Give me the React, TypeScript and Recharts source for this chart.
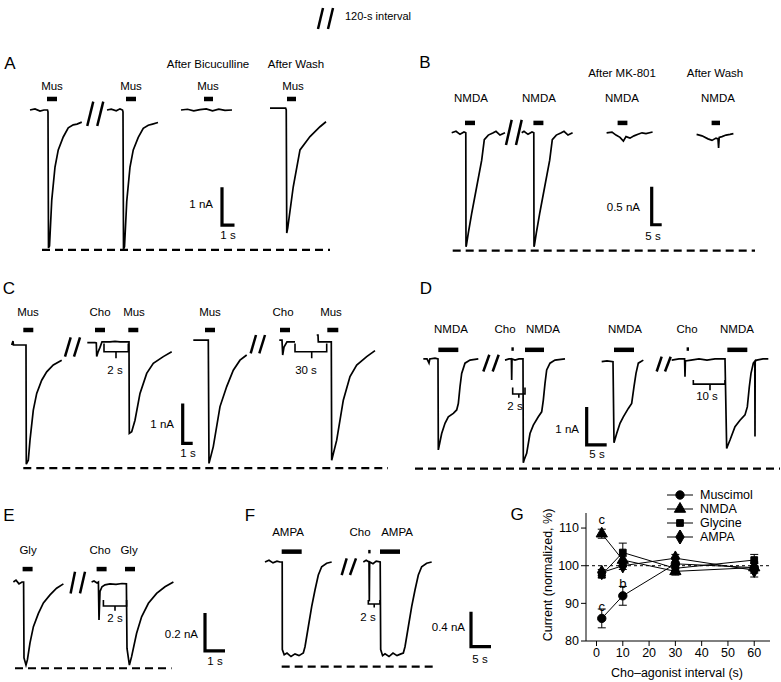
import React from 'react';
import { LineChart, Line, XAxis, YAxis, ReferenceLine, ErrorBar, Symbols } from 'recharts';

const FONT = 'Arial, "Liberation Sans", Helvetica, sans-serif';

// traces: [time (s), current (nA)]

// A - muscimol, then bicuculline and wash
const a1 = [[0.8, 0], [1.2, 0.03], [1.6, -0.03], [1.92, 0], [2.2, 0], [2.24, -0.05], [2.28, -3.63], [2.36, -3.58], [2.54, -2.37], [2.8, -1.5], [3.06, -1.05], [3.46, -0.71], [3.86, -0.47], [4.26, -0.39], [4.56, -0.37], [4.94, -0.32]];
const a2 = [[6.96, 0], [7.3, 0.02], [7.7, -0.02], [8.0, 0.03], [8.2, 0], [8.24, -0.05], [8.28, -3.66], [8.36, -3.6], [8.54, -2.4], [8.8, -1.5], [9.06, -1.05], [9.46, -0.72], [9.86, -0.48], [10.26, -0.4], [10.6, -0.37], [11.04, -0.33]];
const a3 = [[12.88, 0], [13.4, 0.02], [13.9, -0.02], [14.4, 0.01], [14.9, 0.03], [15.4, -0.02], [15.9, 0.02], [16.4, -0.01], [16.96, 0]];
const a4 = [[20.0, 0.05], [20.5, 0.05], [21.0, 0.05], [21.25, 0.05], [21.3, 0], [21.34, -3.24], [21.42, -3.1], [21.86, -2.02], [22.4, -1.05], [23.2, -0.7], [24.0, -0.44], [24.48, -0.31]];
const aBars = [[2.16, 2.96], [8.48, 9.28], [14.72, 15.44], [21.36, 22.08]];
const aBreaks = [[[5.38, -0.42], [5.86, 0.22]], [[6.18, -0.42], [6.66, 0.22]]];

// B - NMDA, then MK-801 and wash
const b1 = [[5.85, 0], [8, 0.02], [10, -0.02], [12, 0.01], [12.9, 0], [13.0, -1.5], [13.2, -1.48], [14.15, -1.32], [15.85, -1.06], [18.35, -0.71], [20.85, -0.36], [22.15, -0.09], [24.15, -0.03], [26.65, 0], [28, 0.02], [30, -0.03], [32.5, 0]];
const b2 = [[40.85, 0], [42, 0.02], [44, -0.02], [46, 0.01], [46.9, 0], [47.0, -1.5], [47.2, -1.48], [48.15, -1.32], [49.85, -1.06], [52.35, -0.71], [54.85, -0.36], [56.15, -0.09], [58.15, -0.03], [60.65, 0], [62, 0.02], [64, -0.03], [66.3, 0]];
const b3 = [[83.3, 0], [86, 0.01], [88, -0.03], [90, -0.06], [91.7, -0.11], [93, -0.05], [95, -0.07], [97, -0.04], [99, -0.02], [101, 0], [103, -0.01], [106.3, 0.01]];
const b4 = [[128.3, -0.02], [131, -0.04], [134, -0.08], [136, -0.1], [138, -0.07], [139, -0.08], [139.3, -0.2], [139.6, -0.06], [141, -0.05], [143, -0.03], [145, -0.02], [146.7, -0.01]];
const bBars = [[12.5, 17.5], [46.7, 51.7], [88.8, 93.7], [135.8, 140]];
const bBreaks = [[[33, -0.16], [35.85, 0.17]], [[38, -0.16], [40.85, 0.17]]];

// C - choline before muscimol, 2 s and 30 s
const c1 = [[0.17, 0], [0.3, 0.1], [0.35, 0], [1.0, 0], [1.6, 0], [1.63, -2.98], [1.83, -2.88], [2.0, -2.38], [2.33, -1.63], [2.67, -1.21], [3.17, -0.88], [3.67, -0.67], [4.33, -0.5], [5.17, -0.38]];
const c2 = [[7.73, 0.06], [8.5, 0.06], [8.63, 0.05], [8.67, -0.29], [8.8, -0.18], [9.0, -0.06], [9.2, 0.08], [9.6, 0.08], [10, 0.08], [10.5, 0.09], [11.0, 0.08], [11.5, 0.08], [11.9, 0.08], [11.93, -2.21], [12.17, -2.17], [12.5, -1.88], [13.0, -1.21], [13.67, -0.71], [14.33, -0.46], [15.33, -0.29], [16.17, -0.17]];
const c3 = [[18.33, 0.12], [19.0, 0.12], [19.83, 0.12], [19.9, -2.96], [20.33, -2.54], [21.0, -1.54], [21.67, -1.04], [22.33, -0.63], [23.0, -0.38], [23.67, -0.25]];
const c4 = [[26.93, 0.12], [27.2, 0.12], [27.27, -0.25], [27.4, -0.05], [27.7, 0.08], [28.1, 0.08], [28.5, 0.08]];
const c5 = [[30.67, 0.25], [30.8, 0.25], [30.83, 0.08], [31.5, 0.08], [32.13, 0.08], [32.17, -2.88], [32.67, -2.38], [33.33, -1.38], [34.0, -0.79], [34.67, -0.5], [35.67, -0.29], [36.5, -0.14]];
const cBars = [[1.33, 2.33], [8.5, 9.5], [11.83, 12.83], [19.5, 20.5], [27, 28], [31.73, 32.83]];
const cBrackets = [
  [[9.4, 0.04], [9.4, -0.17], [10.6, -0.17], [10.6, -0.33], [10.6, -0.17], [11.83, -0.17], [11.83, 0.04]],
  [[28.5, 0.04], [28.5, -0.17], [30.17, -0.17], [30.17, -0.33], [30.17, -0.17], [31.67, -0.17], [31.67, 0.04]],
];
const cBreaks = [[[5.5, -0.29], [6.07, 0.19]], [[6.4, -0.29], [7.0, 0.19]], [[24.07, -0.21], [24.6, 0.25]], [[24.93, -0.21], [25.5, 0.25]]];

// D - choline before NMDA, 2 s and 10 s
const d1 = [[2.08, 0], [3.0, 0], [3.5, -0.11], [3.7, 0], [5.0, 0.02], [5.75, 0], [5.83, -2.39], [6.0, -2.3], [6.67, -1.96], [7.5, -1.69], [8.33, -1.52], [9.58, -1.43], [10.42, -1.34], [10.83, -1.17], [11.25, -0.73], [11.67, -0.38], [12.5, -0.11], [13.75, -0.03], [15.83, 0]];
const d2 = [[22.5, -0.03], [23.5, 0], [24.1, 0], [24.17, -0.55], [24.25, 0], [25.0, -0.03], [26.0, 0], [27.0, 0], [27.08, -2.73], [27.3, -2.65], [27.92, -2.48], [28.75, -1.96], [29.58, -1.74], [30.83, -1.52], [31.67, -1.39], [32.08, -1.08], [32.5, -0.64], [32.92, -0.29], [33.75, -0.11], [35, -0.03], [37.5, 0]];
const d3 = [[46.67, -0.07], [48, -0.05], [49.5, -0.07], [49.75, -2.2], [50.42, -1.96], [51.25, -1.69], [52.08, -1.52], [53.33, -1.3], [54.17, -1.17], [54.75, -0.73], [55.25, -0.38], [55.83, -0.11], [57.08, -0.03]];
const d4 = [[64.17, -0.03], [66, 0], [67.4, 0], [67.5, -0.47], [67.6, -0.05], [69, -0.03], [71, 0], [73, -0.03], [75, 0], [77.5, 0], [77.92, -2.35], [78.1, -2.3], [78.75, -2.13], [80, -1.78], [81.25, -1.61], [82.5, -1.47], [83.08, -1.26], [83.58, -0.73], [84, -0.38], [84.58, -0.11], [84.95, -0.06], [85.0, -2.04], [85.05, -0.06], [85.42, -0.03], [87, 0], [88.33, 0]];
const dBars = [[5.83, 10.83], [27.5, 32.25], [49.75, 54.75], [78.08, 83.08]];
const dDots = [[24.1, 24.7], [67.9, 68.5]];
const dBrackets = [
  [[24.42, -0.75], [24.42, -0.92], [25.96, -0.92], [25.96, -1.02], [25.96, -0.92], [27.5, -0.92], [27.5, -0.75]],
  [[69.58, -0.55], [69.58, -0.66], [73.75, -0.66], [73.75, -0.82], [73.75, -0.66], [77.5, -0.66], [77.5, -0.55]],
];
const dBreaks = [[[17.08, -0.33], [18.58, 0.11]], [[19.42, -0.33], [20.92, 0.11]], [[60.42, -0.33], [61.67, 0.06]], [[62.5, -0.33], [63.92, 0.06]]];

// E - choline before glycine
const e1 = [[0.17, 0], [0.3, 0.01], [0.45, -0.01], [0.6, 0], [0.68, 0], [0.7, -0.4], [0.8, -0.437], [0.87, -0.41], [1.0, -0.32], [1.17, -0.235], [1.42, -0.165], [1.67, -0.11], [2.0, -0.068], [2.33, -0.033], [2.67, -0.01]];
const e2 = [[4.08, 0], [4.2, 0.005], [4.35, -0.005], [4.42, 0], [4.45, -0.2], [4.5, -0.05], [4.6, -0.025], [4.75, -0.015], [5.0, -0.01], [5.3, -0.012], [5.6, -0.008], [5.82, -0.01], [5.85, -0.35], [5.97, -0.437], [6.08, -0.393], [6.33, -0.27], [6.58, -0.183], [6.92, -0.112], [7.33, -0.06], [7.75, -0.025], [8.17, 0]];
const eBars = [[0.63, 1.13], [4.33, 4.83], [5.75, 6.25]];
const eBrackets = [[[4.67, -0.095], [4.67, -0.126], [5.25, -0.126], [5.25, -0.151], [5.25, -0.126], [5.83, -0.126], [5.83, -0.095]]];
const eBreaks = [[[3.03, -0.06], [3.25, 0.054]], [[3.5, -0.06], [3.75, 0.054]]];

// F - choline before AMPA
const f1 = [[2.5, 0], [3.5, 0.02], [4.5, -0.01], [5.5, 0.01], [6.25, 0], [6.8, 0], [6.83, -1.0], [7.3, -1.06], [8, -1.04], [9, -1.08], [10, -1.05], [11, -1.07], [12.08, -1.04], [12.5, -0.968], [13.33, -0.74], [14.17, -0.51], [15, -0.32], [15.83, -0.149], [16.67, -0.054], [17.92, -0.015], [19.17, 0]];
const f2 = [[27.08, 0], [27.8, 0.02], [28.5, 0], [28.58, -0.45], [28.66, 0], [29.5, -0.02], [30.3, 0.01], [31.3, 0], [31.42, -1.0], [31.9, -1.07], [32.5, -1.05], [33.5, -1.08], [34.5, -1.04], [35.5, -1.07], [36.5, -1.05], [37.08, -1.04], [37.5, -0.968], [38.33, -0.74], [39.17, -0.51], [40, -0.32], [40.83, -0.149], [41.67, -0.054], [42.92, -0.015], [44.17, 0]];
const fBars = [[6.67, 11.67], [31.25, 36.25]];
const fDots = [[28.3, 28.9]];
const fBrackets = [[[28.33, -0.434], [28.33, -0.48], [29.8, -0.48], [29.8, -0.52], [29.8, -0.48], [31.25, -0.48], [31.25, -0.434]]];
const fBreaks = [[[21.67, -0.149], [22.92, 0.042]], [[23.75, -0.149], [25.25, 0.042]]];

// G - normalized current vs choline-agonist interval
const intervals = [2, 10, 30, 60];
const muscimol = [86, 92, 100.5, 99.5];
const muscimolErr = [2.5, 2.5, 1.2, 1.5];
const nmda = [108.5, 101.5, 98.5, 99.5];
const nmdaErr = [1.2, 1, 1, 1.2];
const glycine = [97.6, 103.5, 99.3, 101.5];
const glycineErr = [0.8, 2.5, 1, 1.5];
const ampa = [98.2, 100, 102, 98.8];
const ampaErr = [0.8, 1, 1, 1.8];
const gLetters = [{ x: 2, y: 112.3, s: 'c' }, { x: 10, y: 95.3, s: 'b' }, { x: 2, y: 89.4, s: 'c' }];

const gData = intervals.map((x, k) => ({
  x,
  mus: muscimol[k], musErr: muscimolErr[k],
  nmda: nmda[k], nmdaErr: nmdaErr[k],
  gly: glycine[k], glyErr: glycineErr[k],
  ampa: ampa[k], ampaErr: ampaErr[k],
}));

const gSeries = [
  { key: 'mus', name: 'Muscimol', sym: 'circle', size: 55 },
  { key: 'nmda', name: 'NMDA', sym: 'triangle', size: 55 },
  { key: 'gly', name: 'Glycine', sym: 'square', size: 45 },
  { key: 'ampa', name: 'AMPA', sym: 'diamond', size: 60 },
];

// panel G plot geometry
const G_X = [-4, 66];
const G_Y = [80, 114];
const G_LEFT = 76, G_TOP = 25, G_W = 184, G_H = 128;
const gx = (v: number) => G_LEFT + ((v - G_X[0]) / (G_X[1] - G_X[0])) * G_W;
const gy = (v: number) => G_TOP + ((G_Y[1] - v) / (G_Y[1] - G_Y[0])) * G_H;

type Seg = number[][];
interface PanelSpec {
  box: number[];
  x: number[];
  y: number[];
  traces: Seg[];
  bars: Seg;
  barLevel: number;
  dots?: Seg;
  dotLevel?: number;
  brackets: Seg[];
  breaks: Seg[];
  scale: number[]; // t, top current, nA, s
  dashed: number[]; // level, t0, t1
}

const panels: PanelSpec[] = [
  { box: [20, 91, 320, 171], x: [0, 25.6], y: [-4, 0.5], traces: [a1, a2, a3, a4], bars: aBars, barLevel: 0.29, brackets: [], breaks: aBreaks, scale: [16.16, -2.03, 1, 1], dashed: [-3.68, 1.76, 24.8] },
  { box: [440, 110, 330, 152], x: [0, 165], y: [-1.7, 0.3], traces: [b1, b2, b3, b4], bars: bBars, barLevel: 0.13, brackets: [], breaks: bBreaks, scale: [105.85, -0.71, 0.5, 5], dashed: [-1.55, 6.35, 157.5] },
  { box: [10, 320, 380, 156], x: [0, 38], y: [-3.275, 0.625], traces: [c1, c2, c3, c4, c5], bars: cBars, barLevel: 0.375, brackets: cBrackets, breaks: cBreaks, scale: [17.27, -1.46, 1, 1], dashed: [-3.08, 1.33, 37.8] },
  { box: [415, 335, 366, 140], x: [0, 91.5], y: [-3.05, 0.63], traces: [d1, d2, d3, d4], bars: dBars, barLevel: 0.24, dots: dDots, dotLevel: 0.26, brackets: dBrackets, breaks: dBreaks, scale: [42.92, -1.26, 1, 5], dashed: [-2.88, 0, 91.25] },
  { box: [10, 560, 240, 115], x: [0, 12], y: [-0.4895, 0.1158], traces: [e1, e2], bars: eBars, barLevel: 0.068, brackets: eBrackets, breaks: eBreaks, scale: [9.75, -0.163, 0.2, 1], dashed: [-0.454, 0.25, 8.08] },
  { box: [255, 540, 245, 135], x: [0, 61.25], y: [-1.291, 0.251], traces: [f1, f2], bars: fBars, barLevel: 0.118, dots: fDots, dotLevel: 0.118, brackets: fBrackets, breaks: fBreaks, scale: [54, -0.568, 0.4, 5], dashed: [-1.196, 6.67, 45] },
];

// text placed on the page: x, y (centre), text, font size, anchor
const labels: [number, number, string, number?, string?][] = [
  [345, 16, '120-s interval', 11, 'start'],
  [10, 63, 'A', 17], [208, 65, 'After Bicuculline', 11.5], [296, 65, 'After Wash', 11.5],
  [52, 87, 'Mus', 11.5], [131, 87, 'Mus', 11.5], [208, 87, 'Mus', 11.5], [293, 87, 'Mus', 11.5],
  [213, 205, '1 nA', 11.5, 'end'], [228, 236, '1 s', 11.5],
  [425, 62, 'B', 17], [622, 74, 'After MK-801', 11.5], [715, 74, 'After Wash', 11.5],
  [471, 99, 'NMDA', 11.5], [539, 99, 'NMDA', 11.5], [622, 99, 'NMDA', 11.5], [718, 99, 'NMDA', 11.5],
  [640, 208, '0.5 nA', 11.5, 'end'], [653, 237, '5 s', 11.5],
  [9, 288, 'C', 17], [28, 313, 'Mus', 11.5], [100, 313, 'Cho', 11.5], [134, 313, 'Mus', 11.5],
  [210, 313, 'Mus', 11.5], [283, 313, 'Cho', 11.5], [331, 313, 'Mus', 11.5],
  [115, 371, '2 s', 11.5], [306, 371, '30 s', 11.5], [174, 425, '1 nA', 11.5, 'end'], [188, 454, '1 s', 11.5],
  [426, 288, 'D', 17], [451, 330, 'NMDA', 11.5], [505, 330, 'Cho', 11.5], [543, 330, 'NMDA', 11.5],
  [625, 330, 'NMDA', 11.5], [687, 330, 'Cho', 11.5], [737, 330, 'NMDA', 11.5],
  [515, 407, '2 s', 11.5], [707, 397, '10 s', 11.5], [579, 430, '1 nA', 11.5, 'end'], [597, 455, '5 s', 11.5],
  [9, 515, 'E', 17], [28, 551, 'Gly', 11.5], [100, 551, 'Cho', 11.5], [129, 551, 'Gly', 11.5],
  [115, 619, '2 s', 11.5], [198, 635, '0.2 nA', 11.5, 'end'], [215, 662, '1 s', 11.5],
  [250, 515, 'F', 17], [288, 533, 'AMPA', 11.5], [360, 533, 'Cho', 11.5], [397, 533, 'AMPA', 11.5],
  [368, 618, '2 s', 11.5], [465, 628, '0.4 nA', 11.5, 'end'], [480, 660, '5 s', 11.5],
  [517, 514, 'G', 17], [677, 673, 'Cho\u2013agonist interval (s)', 12.5],
];

const Txt = ({ x, y, s, size = 11.5, anchor = 'middle' }: { x: number; y: number; s: string; size?: number; anchor?: string }) => (
  <div
    style={{
      position: 'absolute', left: x, top: y, fontSize: size, lineHeight: 1, whiteSpace: 'nowrap', color: '#000',
      transform: `translate(${anchor === 'middle' ? '-50%' : anchor === 'end' ? '-100%' : '0'}, -50%)`,
    }}
  >
    {s}
  </div>
);

function TracePanel({ p }: { p: PanelSpec }) {
  const [left, top, w, h] = p.box;
  const series: { pts: Seg; width: number; dash?: string }[] = [];
  p.traces.forEach((s) => series.push({ pts: s, width: 1.7 }));
  p.bars.forEach(([t0, t1]) => series.push({ pts: [[t0, p.barLevel], [t1, p.barLevel]], width: 4.5 }));
  (p.dots || []).forEach(([t0, t1]) => series.push({ pts: [[t0, p.dotLevel!], [t1, p.dotLevel!]], width: 3.5 }));
  p.breaks.forEach((s) => series.push({ pts: s, width: 2.5 }));
  p.brackets.forEach((s) => series.push({ pts: s, width: 1.6 }));
  const [st, si, sh, sw] = p.scale;
  series.push({ pts: [[st, si], [st, si - sh], [st + sw, si - sh]], width: 3.2 });
  const [dl, d0, d1] = p.dashed;
  series.push({ pts: [[d0, dl], [d1, dl]], width: 2.2, dash: '8 5' });

  return (
    <div style={{ position: 'absolute', left, top }}>
      <LineChart width={w} height={h} margin={{ top: 0, right: 0, bottom: 0, left: 0 }}>
        <XAxis type="number" dataKey="t" domain={p.x} hide allowDataOverflow />
        <YAxis type="number" dataKey="i" domain={p.y} hide allowDataOverflow />
        {series.map((s, k) => (
          <Line
            key={k}
            data={s.pts.map(([t, i]) => ({ t, i }))}
            dataKey="i"
            type="linear"
            stroke="#000"
            strokeWidth={s.width}
            strokeDasharray={s.dash}
            strokeLinejoin="miter"
            dot={false}
            activeDot={false}
            isAnimationActive={false}
          />
        ))}
      </LineChart>
    </div>
  );
}

const marker = (type: string, size: number) => (props: any) => {
  const { cx, cy, index } = props;
  if (cx == null || cy == null) return <g key={index} />;
  return <Symbols key={index} cx={cx} cy={cy} type={type as any} size={size} fill="#000" stroke="#000" />;
};

function PanelG() {
  return (
    <div style={{ position: 'absolute', left: 510, top: 488 }}>
      <LineChart width={271} height={194} data={gData} margin={{ top: G_TOP, right: 11, bottom: 11, left: 22 }}>
        <XAxis
          dataKey="x" type="number" domain={G_X} ticks={[0, 10, 20, 30, 40, 50, 60]}
          height={30} stroke="#000" tickSize={5} tick={{ fill: '#000', fontSize: 12.5, fontFamily: FONT }}
        />
        <YAxis
          type="number" domain={G_Y} ticks={[80, 90, 100, 110]} width={54} stroke="#000"
          tickSize={5} tick={{ fill: '#000', fontSize: 12.5, fontFamily: FONT }} allowDataOverflow
        />
        <ReferenceLine y={100} stroke="#000" strokeDasharray="3 3" />
        {gSeries.map((s) => (
          <Line
            key={s.key}
            dataKey={s.key}
            type="linear"
            stroke="#000"
            strokeWidth={1}
            dot={marker(s.sym, s.size)}
            activeDot={false}
            isAnimationActive={false}
          >
            <ErrorBar dataKey={s.key + 'Err'} direction="y" width={4} stroke="#000" strokeWidth={1} />
          </Line>
        ))}
      </LineChart>
      {gLetters.map((l, k) => (
        <Txt key={k} x={gx(l.x)} y={gy(l.y)} s={l.s} size={13} />
      ))}
      <div
        style={{
          position: 'absolute', left: 38, top: 87, fontSize: 12.5, whiteSpace: 'nowrap',
          transform: 'translate(-50%, -50%) rotate(-90deg)',
        }}
      >
        Current (normalized, %)
      </div>
      {gSeries.map((s, k) => (
        <div key={s.key} style={{ position: 'absolute', left: 157, top: k * 14, height: 14, display: 'flex', alignItems: 'center', fontSize: 12.5 }}>
          <svg width={26} height={14} style={{ marginRight: 7 }}>
            <line x1={0} y1={7} x2={26} y2={7} stroke="#000" strokeWidth={1} />
            <Symbols cx={13} cy={7} type={s.sym as any} size={s.size} fill="#000" stroke="#000" />
          </svg>
          {s.name}
        </div>
      ))}
    </div>
  );
}

export default function App() {
  return (
    <div
      style={{
        position: 'absolute', left: 0, top: 0, width: 781, height: 682, background: '#fff',
        fontFamily: FONT, color: '#000', overflow: 'hidden',
      }}
    >
      <svg width={20} height={26} style={{ position: 'absolute', left: 315, top: 6 }}>
        <line x1={3} y1={23} x2={8} y2={2} stroke="#000" strokeWidth={2.5} />
        <line x1={13} y1={23} x2={18} y2={2} stroke="#000" strokeWidth={2.5} />
      </svg>
      {panels.map((p, k) => (
        <TracePanel key={k} p={p} />
      ))}
      <PanelG />
      {labels.map(([x, y, s, size, anchor], k) => (
        <Txt key={k} x={x} y={y} s={s} size={size} anchor={anchor} />
      ))}
    </div>
  );
}
